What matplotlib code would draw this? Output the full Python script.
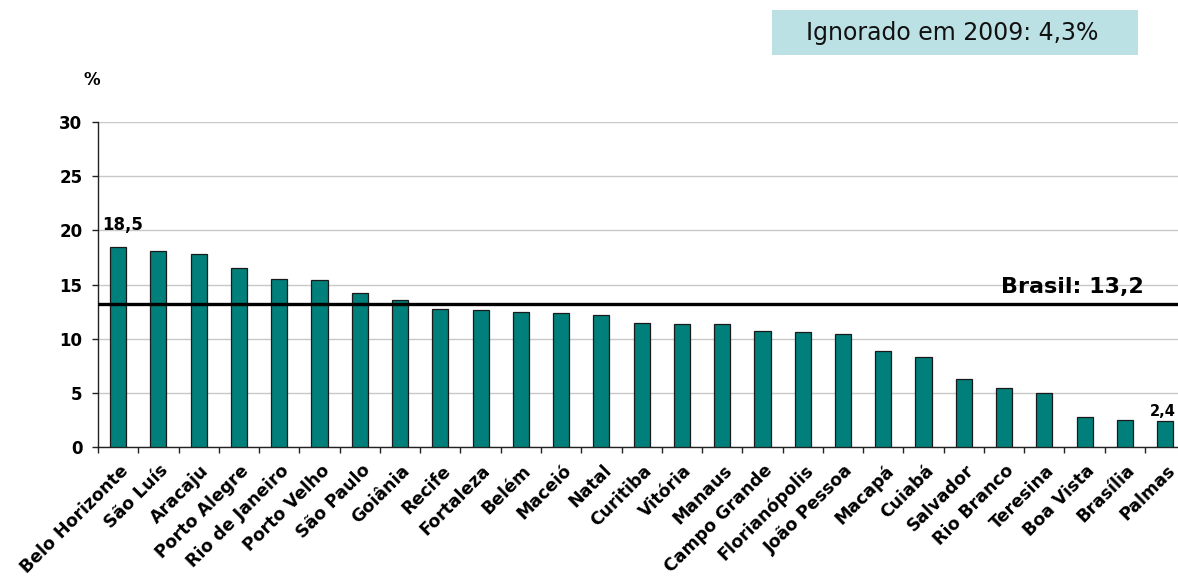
import matplotlib
matplotlib.use("Agg")
import matplotlib.pyplot as plt
import matplotlib.transforms as mtransforms
from matplotlib.patches import Rectangle

# ---------------- Data ---------------- #

cities = [
    "Belo Horizonte", "São Luís", "Aracaju", "Porto Alegre", "Rio de Janeiro",
    "Porto Velho", "São Paulo", "Goiânia", "Recife", "Fortaleza", "Belém",
    "Maceió", "Natal", "Curitiba", "Vitória", "Manaus", "Campo Grande",
    "Florianópolis", "João Pessoa", "Macapá", "Cuiabá", "Salvador",
    "Rio Branco", "Teresina", "Boa Vista", "Brasília", "Palmas",
]
values = [
    18.5, 18.1, 17.8, 16.5, 15.5, 15.4, 14.2, 13.6, 12.8, 12.7, 12.5,
    12.4, 12.2, 11.5, 11.4, 11.4, 10.7, 10.6, 10.5, 8.9, 8.3, 6.3,
    5.5, 5.0, 2.8, 2.5, 2.4,
]
brasil = 13.2
ignorado_text = "Ignorado em 2009: 4,3%"
y_ticks = [0, 5, 10, 15, 20, 25, 30]

bar_color = "#007F7B"
grid_color = "#C8C8C8"
box_color = "#BCE1E5"

plt.rcParams["font.family"] = ["DejaVu Sans"]

fig = plt.figure(figsize=(11.78, 5.76), dpi=100)
ax = fig.add_axes([0.0832, 0.2231, 0.923, 0.5651])

x = list(range(len(cities)))

# ---------------- Bars ---------------- #

ax.bar(x, values, width=0.4, color=bar_color, edgecolor="#1a1a1a",
       linewidth=0.9, zorder=3)

ax.set_xlim(-0.5, len(cities) - 0.5)
ax.set_ylim(0, 30)

ax.set_yticks(y_ticks)
ax.set_yticklabels([str(t) for t in y_ticks], fontsize=12, fontweight="bold")
ax.yaxis.grid(True, color=grid_color, linewidth=1.0, zorder=0)
ax.set_axisbelow(True)
ax.tick_params(axis="y", length=4.3, width=1, pad=7, color="#222222")

# labels at bar centres, ticks on the boundaries between bars
ax.set_xticks(x)
ax.set_xticklabels(cities, fontsize=12.5, fontweight="bold", rotation=45,
                   ha="right", va="top", rotation_mode="anchor")
ax.tick_params(axis="x", which="major", length=0, pad=10)
ax.set_xticks([i - 0.5 for i in range(len(cities) + 1)], minor=True)
ax.tick_params(axis="x", which="minor", length=4, width=1, color="#222222")

shift = mtransforms.ScaledTranslation(0.01, 0, fig.dpi_scale_trans)
for lbl in ax.get_xticklabels():
    lbl.set_transform(lbl.get_transform() + shift)

for side in ["top", "right"]:
    ax.spines[side].set_visible(False)
for side in ["left", "bottom"]:
    ax.spines[side].set_color("#222222")
    ax.spines[side].set_linewidth(1.0)

# ---------------- Brasil reference line ---------------- #

ax.axhline(brasil, color="black", linewidth=2.4, zorder=4)
ax.annotate(f"Brasil: {brasil:.1f}".replace(".", ","),
            xy=(23.7, brasil), xytext=(0, 5), textcoords="offset points",
            ha="center", va="bottom", fontsize=16, fontweight="bold")

# ---------------- Value labels ---------------- #

ax.annotate(f"{values[0]:.1f}".replace(".", ","),
            xy=(0, values[0]), xytext=(3, 9), textcoords="offset points",
            ha="center", va="bottom", fontsize=12, fontweight="bold")
ax.annotate(f"{values[-1]:.1f}".replace(".", ","),
            xy=(len(values) - 1, values[-1]), xytext=(-1.5, 1.5),
            textcoords="offset points",
            ha="center", va="bottom", fontsize=10.5, fontweight="bold")

# ---------------- Axis unit and note box ---------------- #

fig.text(92 / 1178, 1 - 80 / 576, "%", ha="center", va="center",
         fontsize=12, fontweight="bold")

fig.patches.append(Rectangle((772 / 1178, 1 - 55 / 576), 366 / 1178, 45 / 576,
                             transform=fig.transFigure, facecolor=box_color,
                             edgecolor="none", zorder=0))
fig.text(952 / 1178, 1 - 33 / 576, ignorado_text, ha="center", va="center",
         fontsize=17, color="#111111")

fig.savefig("out.png", dpi=100)
